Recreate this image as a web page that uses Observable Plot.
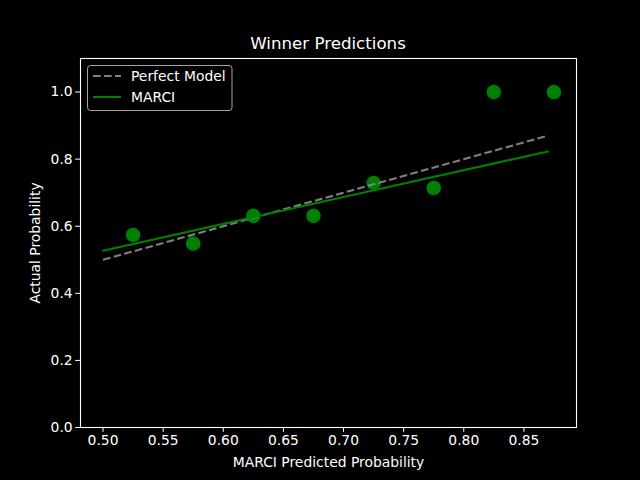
<!DOCTYPE html>
<html><head><meta charset="utf-8">
<script src="https://cdn.jsdelivr.net/npm/d3@7"></script>
<script src="https://cdn.jsdelivr.net/npm/@observablehq/plot@0.6"></script>
<style>
html,body{margin:0;padding:0;background:#000;}
#chart svg{display:block;}
</style>
</head><body><div id="chart"></div>
<script>
const binX = [0.525, 0.575, 0.625, 0.675, 0.725, 0.775, 0.825, 0.875];
const actualY = [0.574, 0.548, 0.631, 0.631, 0.729, 0.714, 1.0, 1.0];
const lineX = [0.5, 0.87];
const perfectY = [0.5, 0.87];
const marciY = [0.527, 0.823];
const xTicks = [0.50, 0.55, 0.60, 0.65, 0.70, 0.75, 0.80, 0.85];
const yTicks = [0.0, 0.2, 0.4, 0.6, 0.8, 1.0];
const legendLabels = ["Perfect Model", "MARCI"];

const pts = binX.map((x, i) => ({x, y: actualY[i]}));
const perfect = lineX.map((x, i) => ({x, y: perfectY[i]}));
const marci = lineX.map((x, i) => ({x, y: marciY[i]}));

const font = "DejaVu Sans, sans-serif";
const fs = 13.89;
const lw = 2.08;
const dash = "7.7,3.3";
const plot = Plot.plot({
  width: 640, height: 480,
  marginLeft: 80, marginRight: 64, marginTop: 58, marginBottom: 53,
  style: {background: "#000", color: "#fff", fontFamily: font, fontSize: fs + "px"},
  x: {domain: [0.48125, 0.89375]},
  y: {domain: [0, 1.1]},
  marks: [
    Plot.dot(pts, {x: "x", y: "y", r: 7.3, fill: "green", stroke: "none"}),
    Plot.line(perfect, {x: "x", y: "y", stroke: "#808080", strokeWidth: lw, strokeDasharray: dash, strokeLinecap: "butt"}),
    Plot.line(marci, {x: "x", y: "y", stroke: "green", strokeWidth: lw}),
    Plot.frame({stroke: "#fff", strokeWidth: 1.1}),
    Plot.axisX({ticks: xTicks, tickFormat: d3.format(".2f"), tickSize: 4.86, tickPadding: 3, stroke: "#fff", fill: "#fff",
      label: "MARCI Predicted Probability", labelAnchor: "center", labelArrow: "none", labelOffset: 39, fontSize: fs}),
    Plot.axisY({ticks: yTicks, tickFormat: d3.format(".1f"), tickSize: 4.86, tickPadding: 3, stroke: "#fff", fill: "#fff",
      label: "Actual Probability", labelAnchor: "center", labelArrow: "none", labelOffset: 50, fontSize: fs})
  ]
});
const svg = d3.select(plot);
// title
svg.append("text").attr("x", 328).attr("y", 49).attr("text-anchor", "middle")
  .attr("fill", "#fff").attr("font-size", "16.67px").attr("font-family", font).text("Winner Predictions");
// legend
const lg = svg.append("g");
lg.append("rect").attr("x", 87.5).attr("y", 65.5).attr("width", 144.5).attr("height", 45)
  .attr("rx", 3).attr("fill", "#000").attr("fill-opacity", 0.8).attr("stroke", "#cccccc").attr("stroke-opacity", 0.8);
const styles = [{stroke: "#808080", dash: dash}, {stroke: "green", dash: null}];
legendLabels.forEach((lab, i) => {
  const yy = 76 + i * 21;
  lg.append("line").attr("x1", 93).attr("x2", 121).attr("y1", yy).attr("y2", yy)
    .attr("stroke", styles[i].stroke).attr("stroke-width", lw).attr("stroke-dasharray", styles[i].dash);
  lg.append("text").attr("x", 131).attr("y", yy).attr("dy", "0.35em").attr("fill", "#fff").attr("text-anchor", "start")
    .attr("font-size", fs + "px").attr("font-family", font).text(lab);
});
document.getElementById("chart").appendChild(plot);
</script>
</body></html>
